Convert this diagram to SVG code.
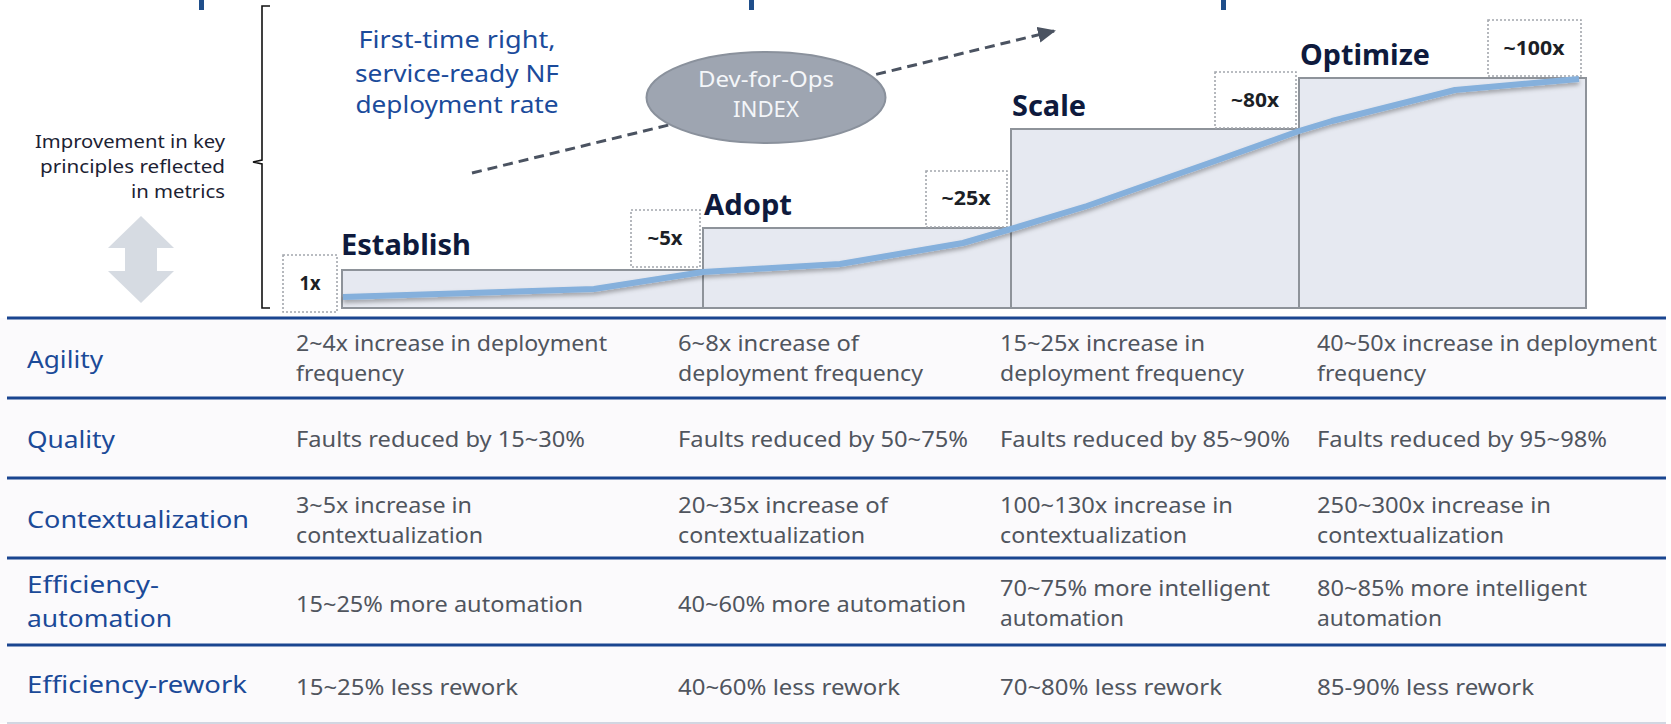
<svg xmlns="http://www.w3.org/2000/svg" width="1671" height="724" viewBox="0 0 1671 724">
<defs>
<style>
text{font-family:"Noto Sans","Open Sans",sans-serif}
.bar{fill:#1f4e8a}
.step{fill:#e6e9f1;stroke:#8e939a;stroke-width:2}
.dot{fill:#ffffff;stroke:#a3a7ad;stroke-width:1.6;stroke-dasharray:2 2}
.stage{font-size:28px;font-weight:700;fill:#0e1a3d}
.mult{font-size:19px;font-weight:700;fill:#1c1f26;text-anchor:middle}
.hdr{font-size:24px;fill:#1b4a98}
.cell{font-size:21px;fill:#50555e}
.rule{stroke:#1a4590;stroke-width:3}
.side{font-size:18px;fill:#1c2233;text-anchor:end}
.kpi{font-size:24px;fill:#1b4b9b;text-anchor:middle}
</style>
<marker id="ah" markerUnits="userSpaceOnUse" markerWidth="18" markerHeight="16" refX="16" refY="8" orient="auto">
<path d="M0,0 L18,8 L0,16 Z" fill="#4b5361"/>
</marker>
<filter id="sh" x="-5%" y="-20%" width="110%" height="150%">
<feDropShadow dx="0" dy="3" stdDeviation="2" flood-color="#000000" flood-opacity="0.3"/>
</filter>
</defs>
<rect width="1671" height="724" fill="#ffffff"/>
<rect x="0" y="318" width="1666" height="405" fill="#fbfafc"/>

<g id="top-bars">
<rect class="bar" x="199" y="0" width="5" height="10"/>
<rect class="bar" x="749" y="0" width="5" height="10"/>
<rect class="bar" x="1221" y="0" width="5" height="10"/>
</g>

<g id="side-label">
<text class="side" x="225" y="148" textLength="190" lengthAdjust="spacingAndGlyphs">Improvement in key</text>
<text class="side" x="225" y="173" textLength="185" lengthAdjust="spacingAndGlyphs">principles reflected</text>
<text class="side" x="225" y="198" textLength="94" lengthAdjust="spacingAndGlyphs">in metrics</text>
</g>

<g id="brace">
<path d="M270,6 L262,6 L262,160 L253,162 L262,164 L262,308 L270,308" fill="none" stroke="#111111" stroke-width="1.6"/>
</g>

<g id="double-arrow">
<path d="M141,216 L174,248 L157,248 L157,271 L174,271 L141,303 L108,271 L125,271 L125,248 L108,248 Z" fill="#d6dbe2"/>
</g>

<g id="kpi-title">
<text class="kpi" x="457" y="48" textLength="197" lengthAdjust="spacingAndGlyphs">First-time right,</text>
<text class="kpi" x="457" y="82" textLength="204" lengthAdjust="spacingAndGlyphs">service-ready NF</text>
<text class="kpi" x="457" y="113" textLength="203" lengthAdjust="spacingAndGlyphs">deployment rate</text>
</g>

<g id="connectors">
<line x1="472" y1="173" x2="1054" y2="31" stroke="#4b5361" stroke-width="3" stroke-dasharray="10 6" marker-end="url(#ah)"/>
</g>

<g id="index">
<ellipse cx="766" cy="97.5" rx="119.5" ry="45.5" fill="#9ea5b1" stroke="#8a919c" stroke-width="2"/>
<text x="766" y="87" font-size="22" fill="#f4f6f9" text-anchor="middle" textLength="136" lengthAdjust="spacingAndGlyphs">Dev-for-Ops</text>
<text x="766" y="117" font-size="22" fill="#f4f6f9" text-anchor="middle" textLength="66" lengthAdjust="spacingAndGlyphs">INDEX</text>
</g>

<g id="step-establish">
<rect class="step" x="342" y="270" width="361" height="38"/>
<text class="stage" x="341" y="255" textLength="130" lengthAdjust="spacingAndGlyphs">Establish</text>
</g>
<g id="step-adopt">
<rect class="step" x="703" y="228" width="308" height="80"/>
<text class="stage" x="704" y="215" textLength="88" lengthAdjust="spacingAndGlyphs">Adopt</text>
</g>
<g id="step-scale">
<rect class="step" x="1011" y="129" width="288" height="179"/>
<text class="stage" x="1012" y="116" textLength="74" lengthAdjust="spacingAndGlyphs">Scale</text>
</g>
<g id="step-optimize">
<rect class="step" x="1299" y="78" width="287" height="230"/>
<text class="stage" x="1300" y="65" textLength="130" lengthAdjust="spacingAndGlyphs">Optimize</text>
</g>

<g id="mult-1x">
<rect class="dot" x="283" y="255" width="54" height="57"/>
<text class="mult" x="310" y="290" textLength="21" lengthAdjust="spacingAndGlyphs">1x</text>
</g>
<g id="mult-5x">
<rect class="dot" x="631" y="210" width="69" height="57"/>
<text class="mult" x="665" y="245" textLength="35" lengthAdjust="spacingAndGlyphs">~5x</text>
</g>
<g id="mult-25x">
<rect class="dot" x="926" y="171" width="81" height="56"/>
<text class="mult" x="966" y="205" textLength="49" lengthAdjust="spacingAndGlyphs">~25x</text>
</g>
<g id="mult-80x">
<rect class="dot" x="1215" y="72" width="81" height="56"/>
<text class="mult" x="1255" y="107" textLength="48" lengthAdjust="spacingAndGlyphs">~80x</text>
</g>
<g id="mult-100x">
<rect class="dot" x="1488" y="20" width="93" height="56"/>
<text class="mult" x="1534" y="55" textLength="61" lengthAdjust="spacingAndGlyphs">~100x</text>
</g>

<g id="index-curve">
<polyline points="343,297 470,293 594,289 703,272 840,264 963,243 1011,229 1087,206 1215,161 1299,131 1332,121 1455,90 1579,79" fill="none" stroke="#85b0dc" stroke-width="6" stroke-linejoin="round" filter="url(#sh)"/>
</g>

<g id="table-rules">
<line class="rule" x1="7" y1="318" x2="1666" y2="318"/>
<line class="rule" x1="7" y1="398" x2="1666" y2="398"/>
<line class="rule" x1="7" y1="478" x2="1666" y2="478"/>
<line class="rule" x1="7" y1="558" x2="1666" y2="558"/>
<line class="rule" x1="7" y1="645" x2="1666" y2="645"/>
<line x1="7" y1="723" x2="1666" y2="723" stroke="#c3cad8" stroke-width="1.5"/>
</g>

<g id="row-agility">
<text class="hdr" x="27" y="368" textLength="76" lengthAdjust="spacingAndGlyphs">Agility</text>
<text class="cell" x="296" y="351" textLength="311" lengthAdjust="spacingAndGlyphs">2~4x increase in deployment</text>
<text class="cell" x="296" y="381" textLength="108" lengthAdjust="spacingAndGlyphs">frequency</text>
<text class="cell" x="678" y="351" textLength="181" lengthAdjust="spacingAndGlyphs">6~8x increase of</text>
<text class="cell" x="678" y="381" textLength="245" lengthAdjust="spacingAndGlyphs">deployment frequency</text>
<text class="cell" x="1000" y="351" textLength="205" lengthAdjust="spacingAndGlyphs">15~25x increase in</text>
<text class="cell" x="1000" y="381" textLength="244" lengthAdjust="spacingAndGlyphs">deployment frequency</text>
<text class="cell" x="1317" y="351" textLength="340" lengthAdjust="spacingAndGlyphs">40~50x increase in deployment</text>
<text class="cell" x="1317" y="381" textLength="109" lengthAdjust="spacingAndGlyphs">frequency</text>
</g>

<g id="row-quality">
<text class="hdr" x="27" y="448" textLength="88" lengthAdjust="spacingAndGlyphs">Quality</text>
<text class="cell" x="296" y="447" textLength="289" lengthAdjust="spacingAndGlyphs">Faults reduced by 15~30%</text>
<text class="cell" x="678" y="447" textLength="290" lengthAdjust="spacingAndGlyphs">Faults reduced by 50~75%</text>
<text class="cell" x="1000" y="447" textLength="290" lengthAdjust="spacingAndGlyphs">Faults reduced by 85~90%</text>
<text class="cell" x="1317" y="447" textLength="290" lengthAdjust="spacingAndGlyphs">Faults reduced by 95~98%</text>
</g>

<g id="row-context">
<text class="hdr" x="27" y="528" textLength="222" lengthAdjust="spacingAndGlyphs">Contextualization</text>
<text class="cell" x="296" y="513" textLength="176" lengthAdjust="spacingAndGlyphs">3~5x increase in</text>
<text class="cell" x="296" y="543" textLength="187" lengthAdjust="spacingAndGlyphs">contextualization</text>
<text class="cell" x="678" y="513" textLength="210" lengthAdjust="spacingAndGlyphs">20~35x increase of</text>
<text class="cell" x="678" y="543" textLength="187" lengthAdjust="spacingAndGlyphs">contextualization</text>
<text class="cell" x="1000" y="513" textLength="233" lengthAdjust="spacingAndGlyphs">100~130x increase in</text>
<text class="cell" x="1000" y="543" textLength="187" lengthAdjust="spacingAndGlyphs">contextualization</text>
<text class="cell" x="1317" y="513" textLength="234" lengthAdjust="spacingAndGlyphs">250~300x increase in</text>
<text class="cell" x="1317" y="543" textLength="187" lengthAdjust="spacingAndGlyphs">contextualization</text>
</g>

<g id="row-automation">
<text class="hdr" x="27" y="593" textLength="132" lengthAdjust="spacingAndGlyphs">Efficiency-</text>
<text class="hdr" x="27" y="627" textLength="145" lengthAdjust="spacingAndGlyphs">automation</text>
<text class="cell" x="296" y="612" textLength="287" lengthAdjust="spacingAndGlyphs">15~25% more automation</text>
<text class="cell" x="678" y="612" textLength="288" lengthAdjust="spacingAndGlyphs">40~60% more automation</text>
<text class="cell" x="1000" y="596" textLength="270" lengthAdjust="spacingAndGlyphs">70~75% more intelligent</text>
<text class="cell" x="1000" y="626" textLength="124" lengthAdjust="spacingAndGlyphs">automation</text>
<text class="cell" x="1317" y="596" textLength="270" lengthAdjust="spacingAndGlyphs">80~85% more intelligent</text>
<text class="cell" x="1317" y="626" textLength="125" lengthAdjust="spacingAndGlyphs">automation</text>
</g>

<g id="row-rework">
<text class="hdr" x="27" y="693" textLength="220" lengthAdjust="spacingAndGlyphs">Efficiency-rework</text>
<text class="cell" x="296" y="695" textLength="222" lengthAdjust="spacingAndGlyphs">15~25% less rework</text>
<text class="cell" x="678" y="695" textLength="222" lengthAdjust="spacingAndGlyphs">40~60% less rework</text>
<text class="cell" x="1000" y="695" textLength="222" lengthAdjust="spacingAndGlyphs">70~80% less rework</text>
<text class="cell" x="1317" y="695" textLength="217" lengthAdjust="spacingAndGlyphs">85-90% less rework</text>
</g>
</svg>
